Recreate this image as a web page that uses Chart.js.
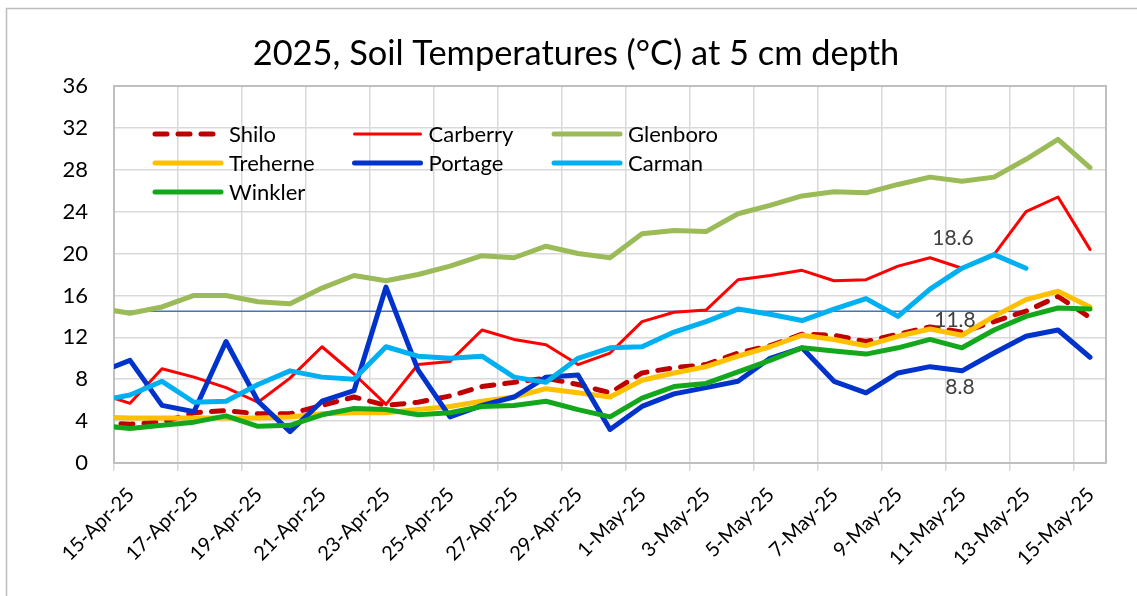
<!DOCTYPE html>
<html>
<head>
<meta charset="utf-8">
<script src="https://cdn.jsdelivr.net/npm/chart.js@4.4.1/dist/chart.umd.min.js"></script>
<style>
  html, body { margin: 0; padding: 0; background: #fff; }
  #wrap { width: 1137px; height: 596px; }
</style>
</head>
<body>
<div id="wrap"><canvas id="soil" width="1137" height="596"></canvas></div>
<script>
// daily readings, 14-Apr (partly off the left edge) to 15-May
const dates = ['14-Apr-25','15-Apr-25','16-Apr-25','17-Apr-25','18-Apr-25','19-Apr-25','20-Apr-25','21-Apr-25',
  '22-Apr-25','23-Apr-25','24-Apr-25','25-Apr-25','26-Apr-25','27-Apr-25','28-Apr-25','29-Apr-25','30-Apr-25',
  '1-May-25','2-May-25','3-May-25','4-May-25','5-May-25','6-May-25','7-May-25','8-May-25','9-May-25','10-May-25',
  '11-May-25','12-May-25','13-May-25','14-May-25','15-May-25'];
const xTicks = ['15-Apr-25','17-Apr-25','19-Apr-25','21-Apr-25','23-Apr-25','25-Apr-25','27-Apr-25','29-Apr-25',
  '1-May-25','3-May-25','5-May-25','7-May-25','9-May-25','11-May-25','13-May-25','15-May-25'];

const shilo    = [3.9,3.7,3.9,4.8,5.0,4.7,4.7,5.5,6.3,5.5,5.8,6.4,7.3,7.7,8.1,7.5,6.7,8.6,9.1,9.4,10.5,11.2,12.3,12.2,11.6,12.3,13.0,12.5,13.5,14.5,15.9,13.9];
const carberry = [6.7,5.7,9.0,8.2,7.2,5.8,8.1,11.1,8.5,5.6,9.4,9.7,12.7,11.8,11.3,9.4,10.5,13.5,14.4,14.6,17.5,17.9,18.4,17.4,17.5,18.8,19.6,18.6,19.9,24.0,25.4,20.4];
const glenboro = [14.8,14.3,14.9,16.0,16.0,15.4,15.2,16.7,17.9,17.4,18.0,18.8,19.8,19.6,20.7,20.0,19.6,21.9,22.2,22.1,23.8,24.6,25.5,25.9,25.8,26.6,27.3,26.9,27.3,29.0,30.9,28.2];
const treherne = [4.4,4.3,4.3,4.3,4.3,4.3,4.4,4.7,4.8,4.8,5.1,5.4,5.9,6.3,7.1,6.7,6.3,7.9,8.6,9.2,10.2,11.1,12.2,11.8,11.2,12.1,12.8,12.2,14.0,15.6,16.4,14.9];
const portage  = [8.6,9.8,5.5,4.9,11.6,5.9,3.0,5.9,6.9,16.8,8.9,4.4,5.5,6.3,8.2,8.4,3.2,5.4,6.6,7.2,7.8,10.0,11.0,7.8,6.7,8.6,9.2,8.8,10.5,12.1,12.7,10.1];
const carman   = [5.9,6.5,7.8,5.8,5.9,7.5,8.8,8.2,8.0,11.1,10.2,10.0,10.2,8.2,7.7,10.0,11.0,11.1,12.5,13.5,14.7,14.2,13.6,14.7,15.7,14.0,16.6,18.6,19.9,18.6,null,null];
const winkler  = [3.6,3.3,3.6,3.9,4.5,3.5,3.6,4.6,5.2,5.1,4.6,4.8,5.4,5.5,5.9,5.1,4.4,6.2,7.3,7.6,8.7,9.8,11.0,10.7,10.4,11.0,11.8,11.0,12.7,14.0,14.8,14.7];

// reference line
const refValue = 14.5;
const refSpan = ['14-Apr-25', '13-May-25'];

// value labels written on the chart
const notes = [
  { text: '18.6', date: '11-May-25', value: 18.6 },
  { text: '11.8', date: '11-May-25', value: 11.8 },
  { text: '8.8',  date: '11-May-25', value: 8.8 }
];
const noteShift = [[-9, -30], [-7, -19], [-2, 16]];

// a day's reading sits in the middle of its day; axis 0 = start of 15-Apr
const dayX = d => dates.indexOf(d) - 0.5;
const dayStart = d => dates.indexOf(d) - 1;
const pts = arr => arr.map((v, i) => ({ x: i - 0.5, y: v }));

const FONT = 'Lato';
Chart.defaults.font.family = FONT;
Chart.defaults.color = '#000';

function line(label, data, color, width, order, extra) {
  return Object.assign({
    label, data: pts(data), borderColor: color, backgroundColor: color, borderWidth: width,
    pointRadius: 0, tension: 0, borderCapStyle: 'round', borderJoinStyle: 'round',
    clip: 0, order, spanGaps: false
  }, extra || {});
}

const datasets = [
  line('Shilo', shilo, '#c00000', 5, 7, { borderDash: [12, 11] }),
  line('Carberry', carberry, '#ff0000', 3, 6),
  line('Glenboro', glenboro, '#9bbb59', 5, 5),
  line('Treherne', treherne, '#ffc000', 5, 4),
  line('Portage', portage, '#0033cc', 5, 3),
  line('Carman', carman, '#00b0f0', 5, 2),
  line('Winkler', winkler, '#13a81c', 5, 1),
  { label: 'ref', data: refSpan.map(d => ({ x: dayX(d), y: refValue })), borderColor: '#4472c4',
    borderWidth: 1.5, pointRadius: 0, clip: 0, order: 10 }
];

const decor = {
  id: 'decor',
  beforeDraw(chart) {
    const ctx = chart.ctx;
    ctx.save();
    ctx.fillStyle = '#fff';
    ctx.fillRect(0, 0, chart.width, chart.height);
    ctx.strokeStyle = '#bdbdbd';
    ctx.lineWidth = 1.5;
    ctx.strokeRect(6.5, 8.5, 1300, 800);
    ctx.fillStyle = '#000';
    ctx.font = '34.4px ' + FONT;
    ctx.textAlign = 'center';
    ctx.textBaseline = 'alphabetic';
    ctx.fillText('2025, Soil Temperatures (°C) at 5 cm depth', 576, 65);
    ctx.restore();
  },
  beforeDatasetsDraw(chart) {
    const a = chart.chartArea, ctx = chart.ctx;
    ctx.save();
    ctx.strokeStyle = '#bfbfbf';
    ctx.lineWidth = 2;
    ctx.strokeRect(a.left, a.top, a.right - a.left, a.bottom - a.top);
    ctx.restore();
  },
  afterDraw(chart) {
    const a = chart.chartArea, ctx = chart.ctx;
    const xs = chart.scales.x, ys = chart.scales.y;
    ctx.save();
    // legend, 3 columns inside the plot
    chart.data.datasets.slice(0, 7).forEach((ds, k) => {
      const col = k % 3, row = Math.floor(k / 3);
      const x0 = a.left + 39 + col * 199.5;
      const y = a.top + 48 + row * 29;
      ctx.beginPath();
      ctx.strokeStyle = ds.borderColor;
      ctx.lineWidth = ds.borderWidth;
      ctx.lineCap = 'round';
      ctx.setLineDash(ds.borderDash || []);
      ctx.moveTo(x0 + 2, y);
      ctx.lineTo(x0 + 68, y);
      ctx.stroke();
      ctx.setLineDash([]);
      ctx.fillStyle = '#000';
      ctx.font = '22px ' + FONT;
      ctx.textAlign = 'left';
      ctx.textBaseline = 'alphabetic';
      ctx.fillText(ds.label, x0 + 76, y + 8);
    });
    // value notes
    ctx.fillStyle = '#404040';
    ctx.font = '21px ' + FONT;
    ctx.textAlign = 'center';
    ctx.textBaseline = 'middle';
    notes.forEach((n, k) => {
      const px = xs.getPixelForValue(dayX(n.date)) + noteShift[k][0];
      const py = ys.getPixelForValue(n.value) + noteShift[k][1];
      ctx.fillText(n.text, px, py);
    });
    ctx.restore();
  }
};

new Chart(document.getElementById('soil'), {
  type: 'line',
  data: { datasets },
  options: {
    responsive: false,
    animation: false,
    devicePixelRatio: 1,
    layout: { padding: { left: 0, right: 31, top: 86, bottom: 0 } },
    plugins: { legend: { display: false }, title: { display: false }, tooltip: { enabled: false } },
    scales: {
      x: {
        type: 'linear', min: 0, max: 31,
        afterBuildTicks: s => { s.ticks = xTicks.map(l => ({ value: dayStart(l) })); },
        afterFit: s => { s.height = 133; },
        ticks: {
          autoSkip: false, maxRotation: 45, minRotation: 45,
          callback: v => xTicks.find(l => dayStart(l) === v) || '',
          font: { size: 20 }, color: '#000', padding: 12, labelOffset: 17
        },
        grid: { color: '#d9d9d9', lineWidth: 1.5, tickLength: 8, drawTicks: true },
        border: { color: '#bfbfbf', width: 2 }
      },
      y: {
        min: 0, max: 36,
        afterFit: s => { s.width = 114; },
        ticks: { stepSize: 4, font: { size: 22 }, color: '#000', padding: 26 },
        grid: { color: '#d9d9d9', lineWidth: 1.5, drawTicks: false },
        border: { color: '#bfbfbf', width: 2 }
      }
    }
  },
  plugins: [decor]
});
</script>
</body>
</html>
